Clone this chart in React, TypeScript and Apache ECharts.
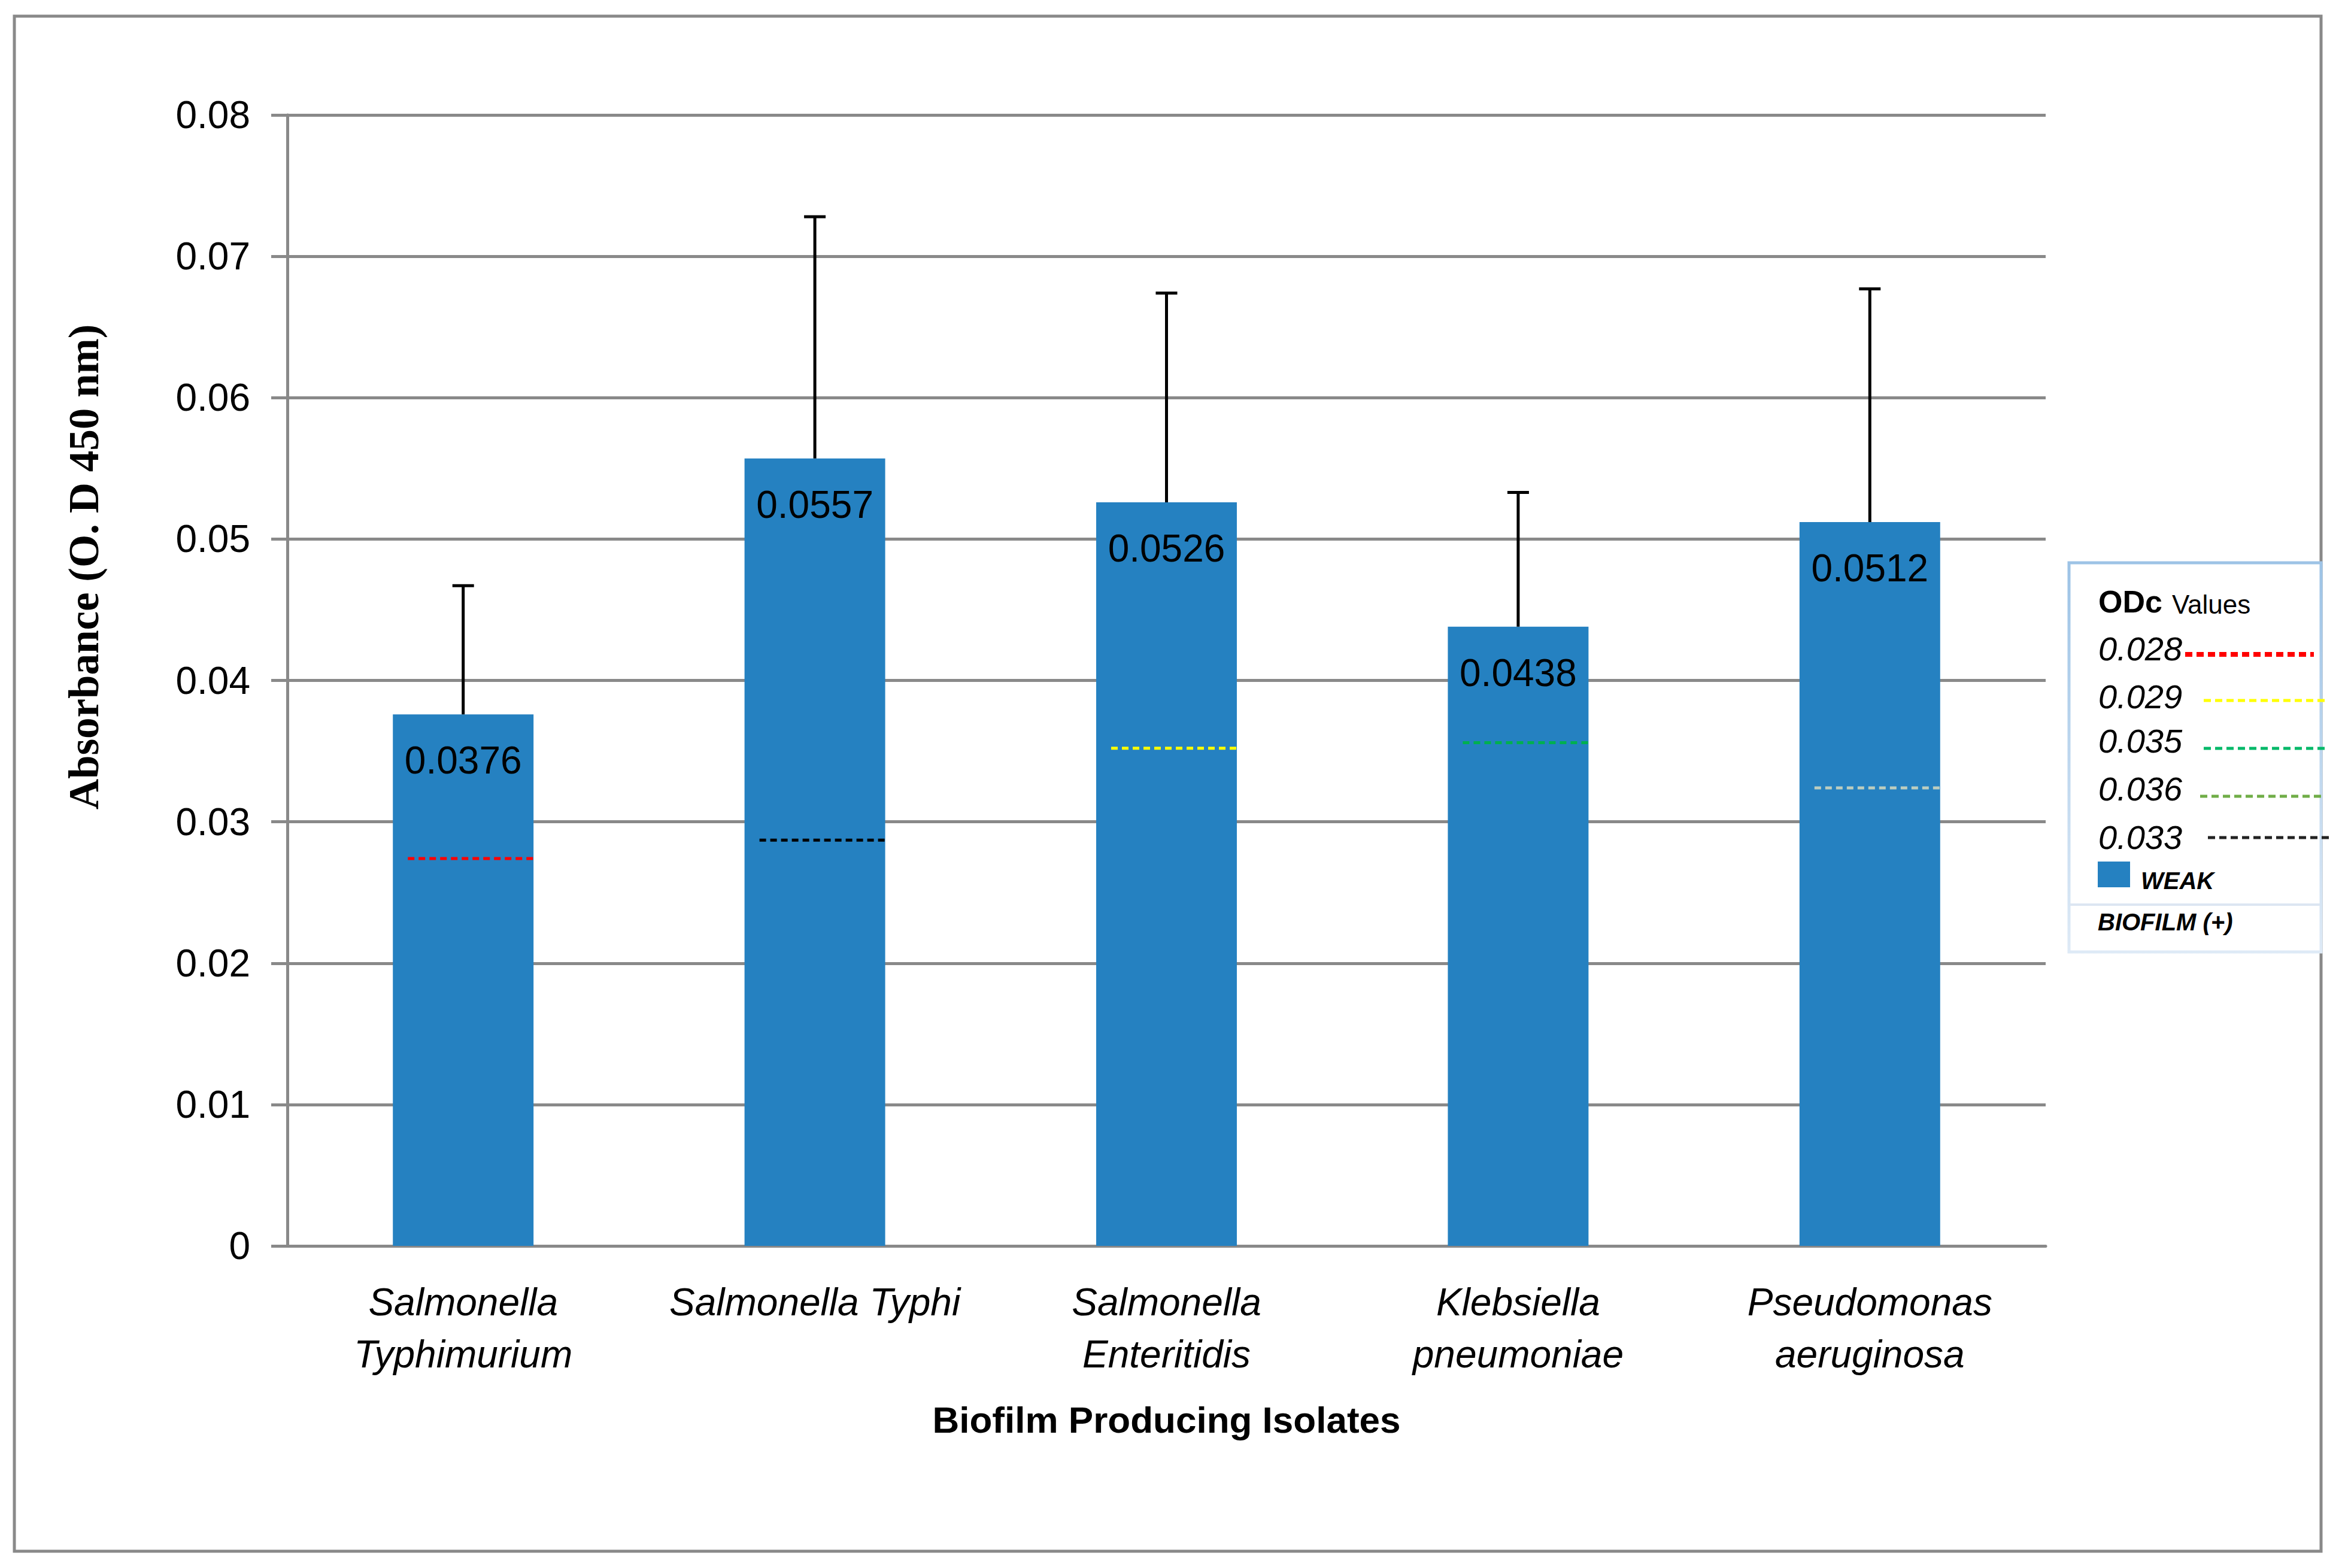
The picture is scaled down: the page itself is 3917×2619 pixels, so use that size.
import React, { useEffect, useRef } from "react";
import * as echarts from "echarts";

// ---- data ----
const categories = [
  "Salmonella\nTyphimurium",
  "Salmonella Typhi",
  "Salmonella\nEnteritidis",
  "Klebsiella\npneumoniae",
  "Pseudomonas\naeruginosa",
];
const meanValues = [0.0376, 0.0557, 0.0526, 0.0438, 0.0512];
const errorPlus = [0.0091, 0.0171, 0.0148, 0.0095, 0.0165];
const odcLineValues = [0.0274, 0.0287, 0.0352, 0.0356, 0.0324];
const odcLineColors = ["#FF0000", "#000000", "#FFFF00", "#00B050", "#BCCDBF"];
const legendOdcLabels = ["0.028", "0.029", "0.035", "0.036", "0.033"];
const legendOdcColors = ["#FF0000", "#FFFF00", "#00B868", "#70AD47", "#222222"];
const yMin = 0;
const yMax = 0.08;
const yInterval = 0.01;

const SANS = '"Liberation Sans", Arial, sans-serif';
const SERIF = '"Liberation Serif", "Times New Roman", serif';
const GRAY = "#898989";
const BAR_BLUE = "#2581C1";

export default function App() {
  const ref = useRef<HTMLDivElement>(null);

  useEffect(() => {
    if (!ref.current) return;
    const chart = echarts.init(ref.current, null, { renderer: "svg" });

    // legend graphics
    const legendChildren: any[] = [];
    legendChildren.push({
      type: "rect",
      shape: { x: 3456, y: 940, width: 421, height: 650 },
      style: {
        fill: "#FFFFFF",
        stroke: new echarts.graphic.LinearGradient(0, 0, 0, 1, [
          { offset: 0, color: "#9DC3E6" },
          { offset: 1, color: "#DEEAF6" },
        ]),
        lineWidth: 5,
      },
      z: 10,
    });
    legendChildren.push({
      type: "line",
      shape: { x1: 3458, y1: 1511, x2: 3875, y2: 1511 },
      style: { stroke: "#DCE6F2", lineWidth: 4 },
      z: 11,
    });
    legendChildren.push({
      type: "text",
      x: 3505,
      y: 1005,
      style: { text: "ODc", font: `bold 52px ${SANS}`, fill: "#000", align: "left", verticalAlign: "middle" },
      z: 11,
    });
    legendChildren.push({
      type: "text",
      x: 3628,
      y: 1009,
      style: { text: "Values", font: `44px ${SANS}`, fill: "#000", align: "left", verticalAlign: "middle" },
      z: 11,
    });
    const rowY = [1083, 1163, 1237, 1317, 1398];
    const lineY = [1093, 1170, 1250, 1330, 1399];
    const lineX1 = [3650, 3681, 3681, 3675, 3688];
    const lineX2 = [3865, 3890, 3890, 3884, 3895];
    legendOdcLabels.forEach((lab, i) => {
      legendChildren.push({
        type: "text",
        x: 3505,
        y: rowY[i],
        style: { text: lab, font: `italic 56px ${SANS}`, fill: "#000", align: "left", verticalAlign: "middle" },
        z: 11,
      });
      legendChildren.push({
        type: "line",
        shape: { x1: lineX1[i], y1: lineY[i], x2: lineX2[i], y2: lineY[i] },
        style: { stroke: legendOdcColors[i], lineWidth: i === 0 ? 8 : 5, lineDash: [12, 7] },
        z: 11,
      });
    });
    legendChildren.push({
      type: "rect",
      shape: { x: 3504, y: 1439, width: 54, height: 43 },
      style: { fill: BAR_BLUE },
      z: 11,
    });
    legendChildren.push({
      type: "text",
      x: 3576,
      y: 1471,
      style: { text: "WEAK", font: `italic bold 40px ${SANS}`, fill: "#000", align: "left", verticalAlign: "middle" },
      z: 11,
    });
    legendChildren.push({
      type: "text",
      x: 3504,
      y: 1540,
      style: { text: "BIOFILM (+)", font: `italic bold 40px ${SANS}`, fill: "#000", align: "left", verticalAlign: "middle" },
      z: 11,
    });

    const option: any = {
      animation: false,
      backgroundColor: "#FFFFFF",
      grid: { left: 480, right: 500, top: 192, bottom: 538, containLabel: false },
      xAxis: {
        type: "category",
        data: categories,
        axisLine: { show: true, lineStyle: { color: GRAY, width: 5 } },
        axisTick: { show: false },
        axisLabel: {
          interval: 0,
          color: "#000",
          fontFamily: SANS,
          fontSize: 64,
          fontStyle: "italic",
          lineHeight: 87,
          margin: 50,
        },
        name: "Biofilm Producing Isolates",
        nameLocation: "middle",
        nameGap: 290,
        nameTextStyle: {
          color: "#000",
          fontFamily: SANS,
          fontSize: 62,
          fontWeight: "bold",
          verticalAlign: "middle",
        },
      },
      yAxis: {
        type: "value",
        min: yMin,
        max: yMax,
        interval: yInterval,
        axisLine: { show: true, lineStyle: { color: GRAY, width: 5 } },
        axisTick: { show: true, length: 27, lineStyle: { color: GRAY, width: 5 } },
        splitLine: { show: true, lineStyle: { color: GRAY, width: 5 } },
        axisLabel: {
          color: "#000",
          fontFamily: SANS,
          fontSize: 64,
          margin: 62,
          formatter: (v: number) => (v === 0 ? "0" : v.toFixed(2)),
        },
      },
      series: [
        {
          type: "bar",
          data: meanValues,
          barWidth: "40%",
          itemStyle: { color: BAR_BLUE },
          label: {
            show: true,
            position: "insideTop",
            distance: 45,
            color: "#000",
            fontFamily: SANS,
            fontSize: 64,
            lineHeight: 64,
            formatter: (p: any) => Number(p.value).toFixed(4),
          },
          z: 2,
        },
        {
          type: "custom",
          data: odcLineValues.map((v, i) => [i, v]),
          renderItem: (params: any, api: any) => {
            const i = api.value(0);
            const v = api.value(1);
            const p = api.coord([i, v]);
            const band = api.size([1, 0])[0];
            const half = (band * 0.4) / 2;
            return {
              type: "line",
              shape: { x1: p[0] - half + 25, y1: p[1], x2: p[0] + half, y2: p[1] },
              style: { stroke: odcLineColors[params.dataIndex], lineWidth: 5, lineDash: [11, 7] },
            };
          },
          z: 3,
        },
        {
          type: "custom",
          data: meanValues.map((v, i) => [i, v, errorPlus[i]]),
          renderItem: (params: any, api: any) => {
            const i = api.value(0);
            const v = api.value(1);
            const e = api.value(2);
            const p0 = api.coord([i, v]);
            const p1 = api.coord([i, v + e]);
            return {
              type: "group",
              children: [
                {
                  type: "line",
                  shape: { x1: p0[0], y1: p0[1], x2: p1[0], y2: p1[1] },
                  style: { stroke: "#000", lineWidth: 5 },
                },
                {
                  type: "line",
                  shape: { x1: p1[0] - 18, y1: p1[1], x2: p1[0] + 18, y2: p1[1] },
                  style: { stroke: "#000", lineWidth: 5 },
                },
              ],
            };
          },
          z: 4,
        },
      ],
      graphic: [
        {
          type: "rect",
          shape: { x: 24, y: 27, width: 3853, height: 2564 },
          style: { fill: "none", stroke: GRAY, lineWidth: 5 },
          z: 5,
          silent: true,
        },
        {
          type: "text",
          x: 140,
          y: 947,
          rotation: Math.PI / 2,
          style: {
            text: "Absorbance (O. D 450 nm)",
            font: `bold 71px ${SERIF}`,
            fill: "#000",
            align: "center",
            verticalAlign: "middle",
          },
          z: 6,
        },
        { type: "group", children: legendChildren, z: 10 },
      ],
    };

    chart.setOption(option);
    return () => chart.dispose();
  }, []);

  return (
    <div
      ref={ref}
      style={{ position: "absolute", left: 0, top: 0, width: 3917, height: 2619 }}
    />
  );
}
